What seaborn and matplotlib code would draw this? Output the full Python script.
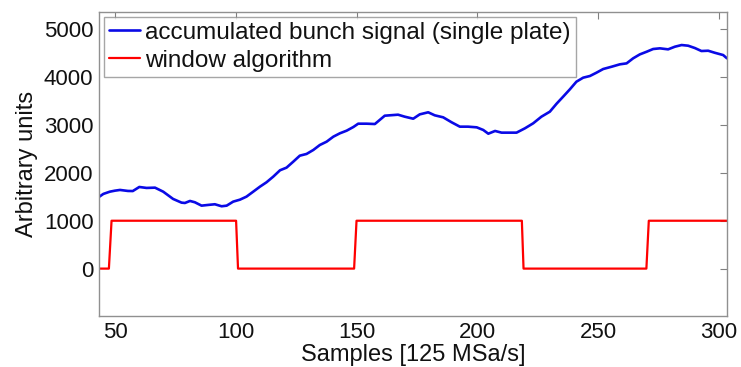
import matplotlib
matplotlib.use("Agg")
import matplotlib.pyplot as plt
import seaborn as sns
import pandas as pd

# accumulated bunch signal (single plate)
signal_x = [43, 45, 47.7, 49.8, 51.9, 55.2, 57.2, 59.9, 62.9, 66.4, 69.8, 73.9, 77.4, 78.8,
            80.9, 82.9, 85.7, 88.4, 91.2, 94.0, 96.1, 98.8, 101.6, 104.3, 107.1, 109.9,
            112.6, 115.4, 118.2, 120.9, 123.7, 126.4, 129.2, 132.0, 134.7, 137.5, 140.3,
            143.0, 145.8, 148.6, 150.6, 154.1, 157.5, 161.6, 167.1, 169.9, 173.4, 176.1,
            179.6, 182.3, 185.8, 189.3, 192.7, 196.1, 199.7, 202.4, 204.5, 207.3, 210.0,
            213.4, 216.2, 219.7, 223.1, 226.5, 230.0, 232.8, 235.5, 238.3, 241.0, 243.8,
            246.6, 249.3, 252.1, 255.6, 259.0, 261.8, 264.5, 267.3, 270.1, 272.8, 275.6,
            279.0, 281.8, 284.6, 287.3, 290.1, 292.8, 295.6, 298.3, 301.8, 303.4]
signal_y = [1490, 1560, 1607, 1628, 1643, 1622, 1620, 1705, 1685, 1691, 1607, 1455, 1378, 1371,
            1413, 1386, 1315, 1330, 1344, 1302, 1315, 1399, 1440, 1503, 1607, 1712,
            1803, 1921, 2054, 2109, 2234, 2359, 2395, 2478, 2582, 2651, 2756,
            2826, 2881, 2958, 3027, 3027, 3020, 3194, 3215, 3173, 3131, 3222,
            3265, 3202, 3160, 3056, 2965, 2965, 2951, 2896, 2818, 2875, 2840,
            2840, 2840, 2931, 3035, 3173, 3278, 3445, 3591, 3745, 3904, 3988,
            4023, 4092, 4169, 4217, 4267, 4287, 4392, 4475, 4530, 4587, 4601,
            4580, 4635, 4670, 4656, 4607, 4545, 4551, 4509, 4461, 4392]

# window algorithm
window_x = [43, 47.3, 48.4, 100, 100.8, 148.9, 149.9, 218.4, 219.1, 270, 271, 303.4]
window_y = [0, 0, 1000, 1000, 0, 0, 1000, 1000, 0, 0, 1000, 1000]

labels = ["accumulated bunch signal (single plate)", "window algorithm"]
xticks = [50, 100, 150, 200, 250, 300]
yticks = [0, 1000, 2000, 3000, 4000, 5000]

sns.set_style("white")
plt.rcParams["font.family"] = ["Liberation Sans", "DejaVu Sans"]

df_sig = pd.DataFrame({"x": signal_x, "y": signal_y})
df_win = pd.DataFrame({"x": window_x, "y": window_y})

fig = plt.figure(figsize=(7.41, 3.67), dpi=100)
ax = fig.add_axes([99 / 741, 1 - 316 / 367, (727 - 99) / 741, (316 - 12) / 367])

sns.lineplot(data=df_sig, x="x", y="y", ax=ax, color="#0a0ae6", lw=1.9,
             label=labels[0], sort=False, estimator=None)
sns.lineplot(data=df_win, x="x", y="y", ax=ax, color="#ff0000", lw=1.6,
             label=labels[1], sort=False, estimator=None)

ax.set_xlim(43.2, 303.4)
ax.set_ylim(-990, 5360)
ax.set_xticks(xticks)
ax.set_yticks(yticks)
ax.tick_params(direction="in", length=5, width=0.8, color="#808080",
               top=True, right=True, labelsize=16, labelcolor="#111111", pad=4)
for s in ax.spines.values():
    s.set_color("#909090")
    s.set_linewidth(1.0)
    s.set_visible(True)

ax.set_xlabel("Samples [125 MSa/s]", fontsize=17, labelpad=1, color="#111111")
ax.set_ylabel("Arbitrary units", fontsize=17, labelpad=4, color="#111111")

leg = ax.legend(loc="upper left", fontsize=17.5, frameon=True, fancybox=False,
                edgecolor="#909090", handlelength=1.3, handletextpad=0.2,
                borderpad=0.2, labelspacing=0.25, borderaxespad=0.2)
leg.get_frame().set_linewidth(1.0)
for t in leg.get_texts():
    t.set_color("#111111")

fig.savefig("out.png", dpi=100)
